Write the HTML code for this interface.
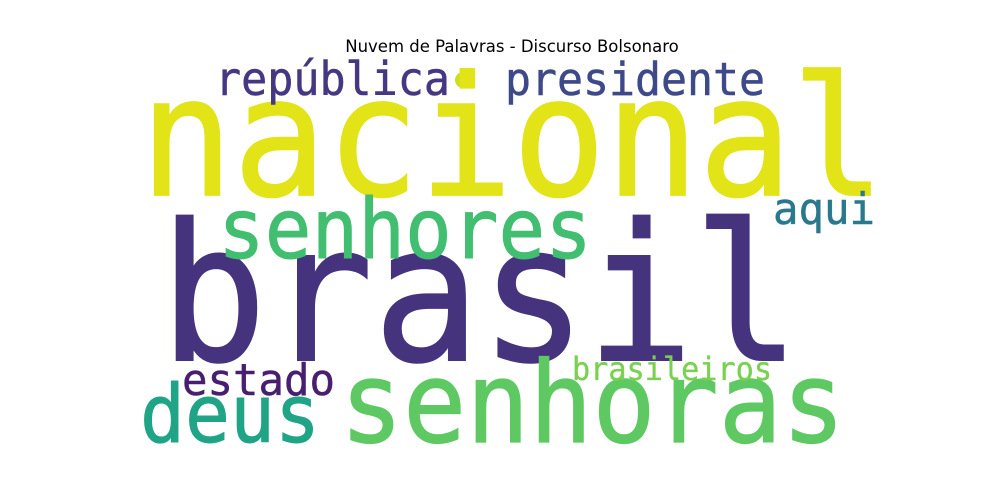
<!DOCTYPE html>
<html><head><meta charset="utf-8"><style>
html,body{margin:0;padding:0;background:#fff;width:1000px;height:500px;overflow:hidden}
svg{display:block}
</style></head><body>
<svg id="cloud" width="1000" height="500" viewBox="0 0 1000 500" xmlns="http://www.w3.org/2000/svg">
<text x="512" y="52" text-anchor="middle" font-family="DejaVu Sans, Liberation Sans, sans-serif" font-size="16.5" fill="#000">Nuvem de Palavras - Discurso Bolsonaro</text>
<circle cx="463" cy="80" r="8" fill="#c8e020"/>
</svg>
<script>
const words = ["nacional","brasil","senhoras","senhores","república","presidente","aqui","estado","deus","brasileiros"];
const sizes = [166,190,112,83,46,45,44,44,80,32];
const colors = ["#e2e418","#46337e","#5ec962","#42be71","#453781","#3e4989","#2a788e","#481f70","#20a486","#7ad151"];
const layoutX = [140,160,340,218,215,505,773,182,140,572];
const layoutY = [195,360,442,258,95,95,224,395,442,380];
const layoutW = [745,640,505,374,235,260,102,153,180,200];
const svg = document.getElementById('cloud');
const NS = "http://www.w3.org/2000/svg";
words.forEach((w,i)=>{
  const t = document.createElementNS(NS,'text');
  
  
  t.setAttribute('x', layoutX[i]);
  t.setAttribute('y', layoutY[i]);
  t.setAttribute('font-family', 'DejaVu Sans Mono, Liberation Mono, monospace');
  t.setAttribute('font-size', sizes[i]);
  t.setAttribute('fill', colors[i]);
  t.setAttribute('stroke', colors[i]);
  t.setAttribute('stroke-width', sizes[i] / 90);
  t.setAttribute('textLength', layoutW[i]);
  t.setAttribute('lengthAdjust', 'spacingAndGlyphs');
  t.textContent = w;
  svg.appendChild(t);
});
</script>
</body></html>
